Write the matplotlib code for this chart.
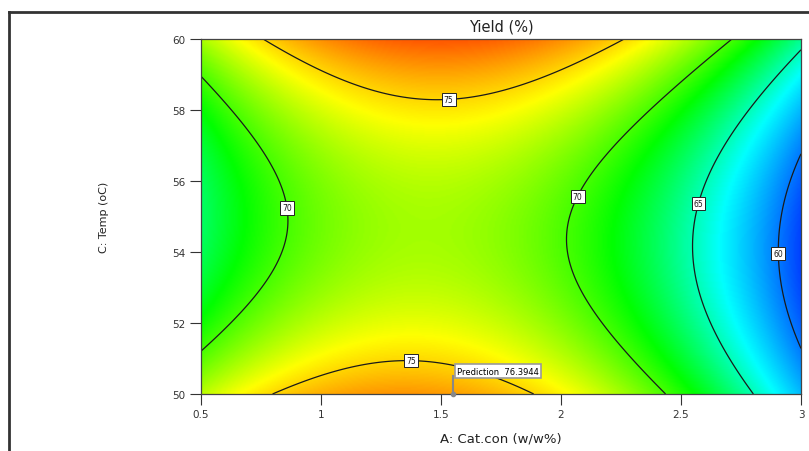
import numpy as np
import matplotlib
matplotlib.use("Agg")
import matplotlib.pyplot as plt
from matplotlib.colors import LinearSegmentedColormap
from matplotlib.lines import Line2D

# response-surface coefficients (coded units a=(A-1.75)/1.25, c=(C-55)/5)
# terms: 1, a, c, ac, a^2, c^2, a^2 c, a c^2, a^3
coef = [71.485, -4.487, 1.146, 1.080, -8.871, 5.406, -0.247, -0.336, 0.542]

x_ticks = [0.5, 1, 1.5, 2, 2.5, 3]
x_ticklabels = ['0.5', '1', '1.5', '2', '2.5', '3']
y_ticks = [50, 52, 54, 56, 58, 60]
levels = [60, 65, 70, 75]
label_pos = [(1.532, 58.3), (1.375, 51.04), (0.858, 55.24), (2.06, 55.6), (2.57, 55.38), (2.91, 53.97)]
pred_A, pred_C, pred_val = 1.55, 50.0, 76.3944

# colour scale nodes (value, colour)
cnode_val = [58.0, 63.5, 68.5, 74.0, 79.0]
cnode_col = ['#0030ff', '#00ffff', '#00ff00', '#ffff00', '#ff4000']


def code(A, C):
    return (np.asarray(A) - 1.75) / 1.25, (np.asarray(C) - 55.0) / 5.0


def terms(a, c):
    return np.stack([np.ones_like(a), a, c, a * c, a**2, c**2, a**2 * c, a * c**2, a**3], axis=-1)


Ag = np.linspace(0.5, 3, 400)
Cg = np.linspace(50, 60, 300)
AA, CC = np.meshgrid(Ag, Cg)
ga, gc = code(AA, CC)
Z = terms(ga, gc) @ np.array(coef)

vmin, vmax = cnode_val[0], cnode_val[-1]
cmap = LinearSegmentedColormap.from_list(
    "de", [((v - vmin) / (vmax - vmin), col) for v, col in zip(cnode_val, cnode_col)])

fig = plt.figure(figsize=(8.09, 4.52), dpi=100)
ax = fig.add_axes([201/809, 1 - 395/452, 600/809, 355/452])
ax.imshow(Z, extent=[0.5, 3, 50, 60], origin='lower', aspect='auto', cmap=cmap,
          vmin=vmin, vmax=vmax, interpolation='bilinear')
cs = ax.contour(AA, CC, Z, levels=levels, colors='#1a1a1a', linewidths=0.9)
lbls = ax.clabel(cs, fmt='%d', fontsize=5.5, inline=False, manual=label_pos)
for t in lbls:
    t.set_rotation(0)
    t.set_bbox(dict(facecolor='white', edgecolor='#222222', pad=1.5, linewidth=0.7))

ax.set_xlim(0.5, 3)
ax.set_ylim(50, 60)
ax.set_xticks(x_ticks)
ax.set_xticklabels(x_ticklabels)
ax.set_yticks(y_ticks)
ax.tick_params(direction='out', length=8, width=0.8, labelsize=7.5, colors='#333333', pad=3)
for s in ax.spines.values():
    s.set_color('#444444')
    s.set_linewidth(0.9)
ax.set_title('Yield (%)', fontsize=10.5, color='#222222', pad=6)
ax.set_xlabel('A: Cat.con (w/w%)', fontsize=9.5, color='#222222', labelpad=9)
ax.set_ylabel('C: Temp (oC)', fontsize=8, color='#222222', labelpad=46)

# prediction flag
ax.plot([pred_A], [pred_C], 'o', ms=3, color='#888888', clip_on=False, zorder=5)
ax.plot([pred_A, pred_A], [pred_C, 50.5], color='#888888', lw=1.5, zorder=5)
ax.text(pred_A + 0.015, 50.52, f'Prediction  {pred_val}', fontsize=6, va='bottom', ha='left',
        bbox=dict(facecolor='white', edgecolor='#999999', pad=1.5, linewidth=1.2), zorder=6)

fig.add_artist(Line2D([8.5/809, 1], [1 - 12.5/452, 1 - 12.5/452], color='#333333', lw=2, transform=fig.transFigure))
fig.add_artist(Line2D([8.5/809, 8.5/809], [0, 1 - 12.5/452], color='#333333', lw=2, transform=fig.transFigure))

fig.savefig('out.png', dpi=100)
